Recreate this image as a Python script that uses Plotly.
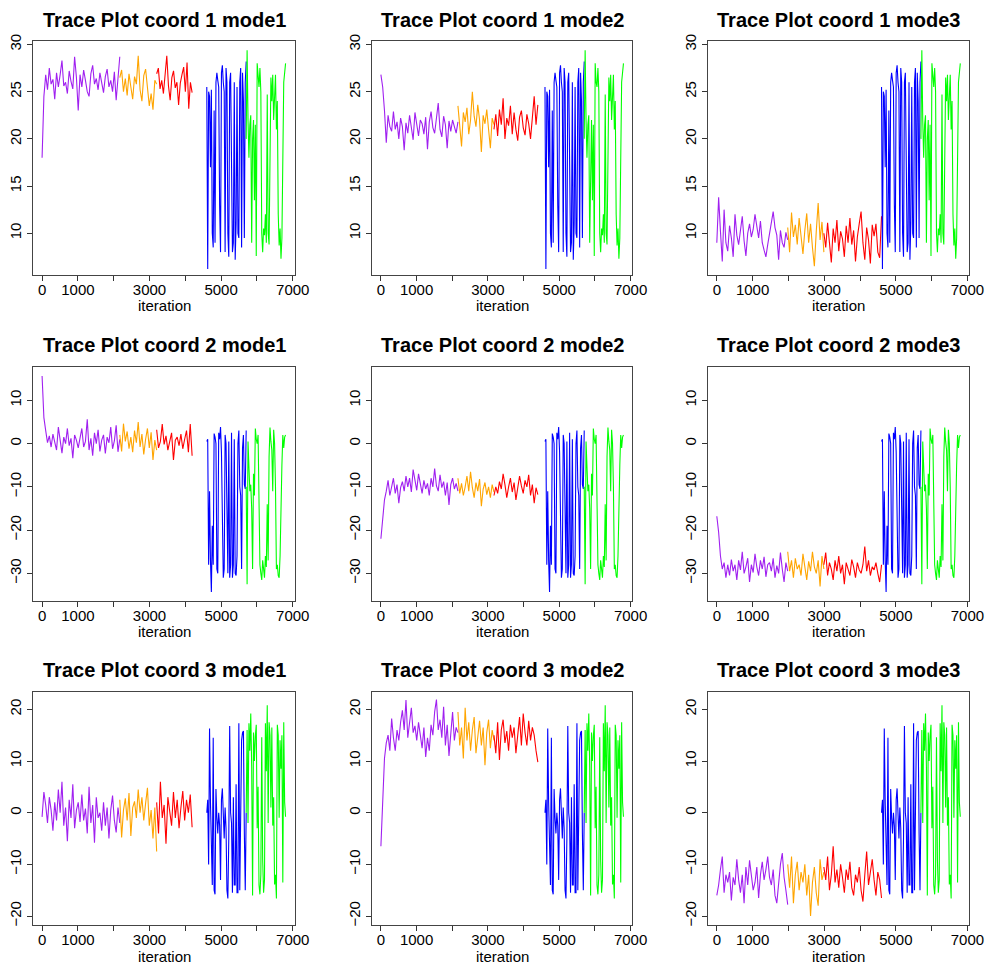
import numpy as np
import plotly.graph_objects as go

# ---------------- data ----------------
colors = ["#A020F0", "#FFA500", "#FF0000", "#0000FF", "#00FF00"]  # purple, orange, red, blue, green

# iteration boundaries of the purple / orange / red chains for each mode
mode_bounds = {1: [0, 2170, 3200, 4190], 2: [0, 2160, 3170, 4400], 3: [0, 1980, 2990, 4600]}
# iteration boundaries of the blue / green chains (same for all modes)
mix_bounds = [4600, 5700, 6800]

# coord 1
c1m1_purple = [18.0, 24.5, 26.8, 25.2, 27.5, 25.8, 26.3, 24.2, 27.0, 25.5, 26.8, 28.3, 25.6, 26.0, 24.8, 27.2, 26.1, 25.3, 28.7, 26.5, 23.0, 26.8, 25.5, 27.3, 26.2, 25.0, 24.5, 26.9, 27.8, 25.8, 26.4, 25.2, 27.0, 26.0, 24.9, 26.6, 27.4, 25.5, 26.2, 25.0, 27.1, 24.1, 26.3, 28.7]
c1m1_orange = [26.5, 27.3, 25.0, 26.4, 24.6, 26.9, 25.5, 24.2, 26.6, 25.8, 28.8, 25.2, 24.0, 26.7, 27.4, 25.1, 23.5, 24.8, 23.1, 26.2, 25.8]
c1m1_red = [26.9, 27.5, 25.3, 26.2, 24.8, 27.0, 28.8, 25.6, 24.1, 26.5, 27.2, 25.4, 26.0, 23.6, 25.9, 26.8, 27.6, 25.0, 28.1, 23.2, 26.0, 24.9]

c1m2_purple = [26.8, 25.5, 23.0, 19.6, 22.5, 21.3, 20.8, 22.9, 21.0, 21.8, 20.0, 22.2, 21.3, 18.8, 21.7, 20.6, 22.5, 21.1, 19.9, 22.8, 21.4, 20.3, 22.0, 21.6, 20.5, 22.3, 18.9, 21.8, 22.9, 21.2, 20.6, 22.1, 23.8, 21.0, 20.2, 22.4, 21.5, 19.0, 21.9, 20.8, 22.0, 21.3, 20.6, 21.8]
c1m2_orange = [23.5, 21.0, 19.2, 22.8, 21.8, 23.3, 20.5, 22.0, 25.0, 22.4, 21.3, 23.6, 22.0, 18.6, 22.5, 21.6, 23.1, 21.0, 19.0, 22.2, 21.5]
c1m2_red = [21.0, 22.6, 20.3, 23.1, 21.5, 24.3, 20.0, 22.2, 21.4, 23.5, 20.5, 22.8, 21.0, 19.8, 22.3, 23.0, 21.2, 20.4, 22.6, 21.6, 20.0, 22.4, 24.5, 21.5, 23.6]

c1m3_purple = [9.0, 13.8, 10.2, 7.0, 12.5, 9.0, 8.1, 10.8, 9.5, 7.5, 12.0, 9.8, 8.8, 10.5, 11.8, 9.2, 7.6, 10.0, 11.0, 9.6, 10.4, 12.0, 10.8, 9.5, 11.3, 9.0, 8.2, 7.5, 8.8, 10.0, 11.5, 12.3, 10.6, 9.8, 7.2, 10.3, 9.0, 8.5, 10.1, 9.3]
c1m3_orange = [10.6, 8.0, 12.2, 9.6, 10.9, 8.8, 11.6, 9.4, 7.8, 10.3, 12.1, 9.0, 11.0, 8.5, 6.5, 10.2, 13.2, 9.3, 11.2, 8.0]
c1m3_red = [10.0, 8.5, 11.1, 9.2, 6.9, 10.5, 9.0, 11.4, 8.1, 10.2, 9.4, 7.5, 10.8, 9.0, 11.6, 8.8, 10.3, 7.0, 9.6, 11.0, 12.3, 9.0, 7.2, 10.6, 9.3, 6.8, 10.9, 9.7, 11.0, 8.0, 7.4, 11.8]

c1_blue = [25.5, 6.2, 25.0, 24.5, 17.0, 25.2, 10.0, 8.5, 23.0, 9.0, 26.0, 27.0, 26.2, 25.5, 13.0, 8.0, 27.0, 27.8, 26.0, 25.0, 8.0, 27.5, 26.0, 10.0, 7.5, 26.0, 27.0, 12.0, 8.0, 9.0, 26.0, 7.2, 11.0, 25.5, 10.0, 9.5, 26.0, 27.5, 8.5, 27.0, 24.0, 9.5, 26.0, 28.2]
c1_green = [20.0, 29.4, 22.0, 18.0, 21.5, 22.5, 9.0, 20.0, 22.0, 13.5, 21.5, 7.6, 28.0, 26.0, 25.5, 27.5, 25.0, 10.0, 8.0, 10.5, 9.8, 12.0, 9.0, 24.7, 10.0, 8.8, 21.5, 26.5, 24.0, 26.8, 22.0, 25.5, 26.8, 21.0, 24.0, 12.0, 8.7, 10.5, 7.3, 9.5, 21.5, 26.0, 27.0, 28.0]

# coord 2
c2m1_purple = [15.6, 6.0, 3.0, 0.2, 1.8, -0.8, 2.2, 0.5, -1.5, 3.8, 0.8, -2.2, 1.5, 0.0, 3.5, -0.5, 1.2, -3.4, 2.0, 0.8, -1.0, 1.8, 3.5, -0.8, 0.5, 5.6, -1.5, 1.2, -2.8, 2.5, 0.0, 3.2, -1.8, 0.8, 2.0, -2.3, 1.5, 0.2, 3.8, -1.2, 0.6, 4.2, -1.9, 1.0]
c2m1_orange = [2.0, -1.8, 4.6, 0.5, 2.8, -1.2, 1.5, -2.0, 3.0, 0.2, 5.0, -0.8, 2.2, -2.5, 1.0, 3.5, -1.0, 2.6, -3.8, 0.8, -1.5]
c2m1_red = [3.2, -1.0, 0.5, 4.5, -0.2, 1.8, -1.5, 0.5, 2.5, -3.8, 0.8, 1.5, -0.5, 2.2, -1.2, 1.0, 3.0, -2.0, 4.5, -2.8]

c2m2_purple = [-22.0, -17.5, -13.0, -11.0, -8.5, -12.0, -10.0, -8.0, -11.5, -9.5, -13.8, -10.2, -8.8, -11.0, -7.5, -10.0, -8.0, -11.2, -6.0, -9.0, -10.8, -7.0, -9.5, -11.5, -8.5, -10.5, -9.2, -12.0, -8.0, -10.0, -5.8, -9.8, -11.0, -7.2, -10.2, -8.8, -12.0, -9.0, -14.2, -9.5, -8.0, -10.5, -9.2, -11.0]
c2m2_orange = [-8.0, -11.5, -9.2, -12.0, -10.0, -7.5, -11.0, -6.5, -10.2, -12.5, -9.0, -11.0, -8.2, -14.5, -10.5, -9.0, -11.8, -10.0, -12.5, -9.5, -11.2]
c2m2_red = [-12.0, -10.0, -11.5, -8.8, -10.5, -7.0, -9.5, -12.5, -10.0, -8.0, -11.2, -9.0, -13.0, -10.5, -7.5, -9.8, -11.5, -8.5, -10.0, -7.2, -12.0, -9.5, -13.8, -10.2, -11.8]

c2m3_purple = [-16.8, -20.5, -26.0, -29.0, -27.5, -31.0, -28.0, -30.5, -26.8, -29.5, -28.0, -31.5, -27.0, -29.2, -25.0, -30.0, -28.5, -26.5, -32.0, -28.0, -29.8, -25.5, -28.5, -30.5, -27.0, -29.0, -26.2, -30.8, -28.0, -27.5, -29.5, -26.5, -31.0, -28.2, -30.0, -25.2, -29.0, -32.0, -27.5, -29.5]
c2m3_orange = [-25.0, -29.5, -27.0, -31.0, -26.5, -29.0, -28.0, -30.5, -25.5, -28.8, -31.5, -27.2, -29.5, -25.0, -28.5, -30.0, -27.0, -33.0, -26.0, -29.0]
c2m3_red = [-28.0, -25.2, -30.5, -27.5, -29.0, -31.5, -27.0, -29.5, -26.0, -30.0, -28.0, -32.5, -27.5, -29.0, -30.5, -26.8, -28.5, -31.0, -27.5, -29.2, -30.0, -28.0, -23.8, -29.5, -27.0, -30.5, -28.5, -29.2, -27.5, -30.0, -32.0, -28.0]

c2_blue = [0.5, 1.0, -28.0, -11.0, -27.0, -34.3, -19.0, -28.0, 2.3, 1.5, 0.0, -29.0, -30.0, 2.5, 1.0, 3.8, -2.0, -26.0, -31.0, -29.0, 2.0, 0.0, -14.0, -30.0, 0.5, -31.0, -28.0, 2.5, -31.0, -28.0, 1.0, -30.0, -30.5, -26.0, 0.0, 3.0, -10.0, -12.0, -29.0, -1.0, 2.0, -9.5, -10.5, 3.0]
c2_green = [-10.0, -32.5, 0.5, -5.0, -11.0, -9.5, -15.0, -29.0, -7.0, -12.0, 3.5, 1.0, 0.0, 2.0, -15.0, -28.0, -30.0, -31.5, -27.0, -29.0, -31.0, -26.0, -28.5, -14.0, -27.0, -3.0, 3.7, 0.5, -1.5, -11.0, 3.2, 0.0, -10.0, -29.0, -28.0, -30.5, -31.0, -26.0, -11.0, -5.0, 2.0, -1.0, 1.5, 2.0]

# coord 3
c3m1_purple = [-0.8, 4.0, 1.5, -2.0, 3.0, 0.5, -3.5, 2.0, -1.5, 4.5, 0.0, 6.0, -2.5, 1.0, -5.5, 2.5, -1.0, 5.5, -3.0, 0.5, 2.0, -1.8, 3.5, -1.5, 0.8, -4.0, 5.0, -2.0, 1.5, -5.8, 3.0, -1.0, 0.0, -3.5, 2.0, -2.5, 1.0, -5.0, 0.5, 3.3, -1.5, -3.8, 1.0, -2.0]
c3m1_orange = [2.5, -4.8, 0.5, 2.8, -1.5, 3.8, -4.5, 1.0, 2.2, -1.0, 4.5, 0.0, 3.0, -1.5, 1.8, 4.8, -2.5, 0.5, -5.0, 1.0, -7.5]
c3m1_red = [2.0, -4.0, 6.0, -1.0, 1.5, -6.0, 3.0, 0.0, -2.5, 4.0, -1.0, 2.5, -3.0, 1.0, 4.2, -1.5, 2.5, 0.0, 3.5, -2.8]

c3m2_purple = [-6.5, 2.0, 10.5, 13.5, 15.0, 12.0, 18.2, 14.5, 12.0, 16.0, 14.0, 17.5, 19.8, 16.0, 21.8, 14.5, 17.8, 20.3, 15.5, 16.8, 14.0, 17.5, 15.0, 12.5, 16.5, 10.8, 14.5, 12.0, 17.0, 15.0, 19.5, 21.9, 16.0, 18.0, 14.5, 20.5, 13.0, 17.0, 11.0, 15.5, 19.5, 14.0, 16.5, 15.5]
c3m2_orange = [19.5, 13.0, 16.5, 10.5, 20.3, 14.0, 17.5, 12.0, 16.0, 18.5, 11.5, 15.0, 17.8, 13.0, 16.5, 9.2, 15.5, 18.0, 12.5, 16.0, 14.0]
c3m2_red = [15.0, 11.5, 17.5, 10.2, 16.0, 18.0, 13.5, 15.8, 12.0, 17.0, 14.5, 16.5, 11.5, 15.0, 18.5, 13.0, 19.2, 15.5, 13.0, 17.8, 14.0, 16.5, 15.0, 12.0, 9.8]

c3m3_purple = [-16.0, -14.0, -11.0, -8.5, -15.5, -12.0, -13.5, -11.5, -17.0, -12.5, -14.0, -9.0, -13.0, -15.5, -12.0, -17.5, -10.5, -14.0, -9.2, -12.0, -15.0, -13.5, -10.5, -16.5, -12.0, -9.5, -13.0, -11.0, -8.5, -12.5, -14.0, -11.0, -16.0, -17.5, -13.0, -10.0, -7.8, -12.5, -15.0, -17.8]
c3m3_orange = [-10.0, -14.5, -8.5, -17.5, -12.0, -9.5, -15.0, -11.5, -13.5, -10.0, -16.0, -12.0, -20.0, -13.5, -10.5, -15.5, -18.0, -9.0, -13.0, -11.5]
c3m3_red = [-10.5, -13.0, -8.5, -15.0, -12.0, -6.5, -13.5, -11.0, -14.5, -10.0, -12.5, -15.5, -11.0, -13.0, -9.5, -14.5, -16.0, -12.0, -13.5, -10.5, -15.0, -17.2, -12.0, -7.5, -14.0, -11.5, -9.0, -13.0, -16.0, -11.5, -13.0, -16.5]

c3_blue = [0.0, 2.5, -10.0, 16.3, 2.0, -6.0, -14.0, 14.5, -15.0, -15.8, 4.6, -1.0, -4.0, 0.0, -2.5, -13.0, 2.5, 4.7, -1.0, -5.0, 1.0, -3.0, -15.0, -16.6, -5.0, 16.8, 0.0, -2.0, -15.5, 3.0, -14.0, -14.0, 5.5, -15.5, -15.5, 17.3, -15.0, 7.5, 14.0, 15.5, 15.8, -4.0, -15.0, 0.0]
c3_green = [0.0, 16.0, -2.0, 17.3, 12.0, 19.2, 9.0, -16.0, 15.5, 10.0, 14.9, 17.0, -3.0, 5.0, -14.0, -15.8, -12.0, 14.6, -9.0, -15.5, -13.0, 17.3, 8.0, 20.8, -2.0, 17.5, 15.0, 1.0, 16.5, -2.5, 3.0, -13.9, -12.0, -16.6, 17.0, 15.0, -1.0, 14.0, 8.5, 15.0, -13.5, 17.5, 2.0, -0.8]

chains = {
    (1, 1): [c1m1_purple, c1m1_orange, c1m1_red],
    (1, 2): [c1m2_purple, c1m2_orange, c1m2_red],
    (1, 3): [c1m3_purple, c1m3_orange, c1m3_red],
    (2, 1): [c2m1_purple, c2m1_orange, c2m1_red],
    (2, 2): [c2m2_purple, c2m2_orange, c2m2_red],
    (2, 3): [c2m3_purple, c2m3_orange, c2m3_red],
    (3, 1): [c3m1_purple, c3m1_orange, c3m1_red],
    (3, 2): [c3m2_purple, c3m2_orange, c3m2_red],
    (3, 3): [c3m3_purple, c3m3_orange, c3m3_red],
}
mixed = {1: [c1_blue, c1_green], 2: [c2_blue, c2_green], 3: [c3_blue, c3_green]}

y_ranges = {1: [5.6, 30.4], 2: [-36.4, 17.7], 3: [-21.8, 23.3]}
y_ticks = {1: [10, 15, 20, 25, 30], 2: [-30, -20, -10, 0, 10], 3: [-20, -10, 0, 10, 20]}
x_tickvals = [0, 1000, 2000, 3000, 4000, 5000, 6000, 7000]
x_ticktext = ["0", "1000", "", "3000", "", "5000", "", "7000"]

# ---------------- layout geometry ----------------
W, H = 1001, 969
col_px = [(34, 299), (378, 642), (719, 984)]
row_px = [(34, 270), (363, 599), (691, 926)]
title_y_px = [13, 341, 669]

FONT = "Arial, Liberation Sans, Helvetica, sans-serif"

fig = go.Figure()
layout = dict(
    width=W, height=H, margin=dict(l=0, r=0, t=0, b=0),
    paper_bgcolor="white", plot_bgcolor="white", showlegend=False,
    font=dict(family=FONT, size=15, color="black"),
)
annotations = []

for r in (1, 2, 3):
    for c in (1, 2, 3):
        n = (r - 1) * 3 + c
        xa = "x" if n == 1 else f"x{n}"
        ya = "y" if n == 1 else f"y{n}"
        b = mode_bounds[c]
        segs = chains[(r, c)]
        for i, vals in enumerate(segs):
            xs = np.linspace(b[i], b[i + 1], len(vals))
            fig.add_trace(go.Scatter(x=xs, y=vals, mode="lines", xaxis=xa, yaxis=ya,
                                     line=dict(color=colors[i], width=1.1), hoverinfo="skip"))
        for j, vals in enumerate(mixed[r]):
            xs = np.linspace(mix_bounds[j], mix_bounds[j + 1], len(vals))
            fig.add_trace(go.Scatter(x=xs, y=vals, mode="lines", xaxis=xa, yaxis=ya,
                                     line=dict(color=colors[3 + j], width=1.1), hoverinfo="skip"))

        x0, x1 = col_px[c - 1]
        yt, yb = row_px[r - 1]
        xk = "xaxis" if n == 1 else f"xaxis{n}"
        yk = "yaxis" if n == 1 else f"yaxis{n}"
        layout[xk] = dict(
            domain=[x0 / W, x1 / W], anchor=ya, range=[-240, 7050],
            tickvals=x_tickvals, ticktext=x_ticktext, ticks="outside", ticklen=5,
            ticklabelstandoff=-4,
            tickcolor="#333", showline=True, linecolor="#444", linewidth=1, mirror=True,
            showgrid=False, zeroline=False, tickfont=dict(size=15, family=FONT, color="black"),
        )
        layout[yk] = dict(
            domain=[1 - yb / H, 1 - yt / H], anchor=xa, range=y_ranges[r],
            tickvals=y_ticks[r], ticks="outside", ticklen=5, tickangle=-90,
            tickcolor="#333", showline=True, linecolor="#444", linewidth=1, mirror=True,
            showgrid=False, zeroline=False, tickfont=dict(size=15, family=FONT, color="black"),
        )
        annotations.append(dict(
            text=f"<b>Trace Plot coord {r} mode{c}</b>", xref="paper", yref="paper",
            x=(x0 + x1) / 2 / W, y=1 - title_y_px[r - 1] / H, xanchor="center", yanchor="middle",
            showarrow=False, font=dict(size=20, family=FONT, color="black"),
        ))
        annotations.append(dict(
            text="iteration", xref="paper", yref="paper",
            x=(x0 + x1) / 2 / W, y=1 - (yb + 31) / H, xanchor="center", yanchor="middle",
            showarrow=False, font=dict(size=15, family=FONT, color="black"),
        ))

layout["annotations"] = annotations
fig.update_layout(**layout)
fig.write_html("out.html", config={"displayModeBar": False},
               post_script="document.body.style.margin='0px';")
